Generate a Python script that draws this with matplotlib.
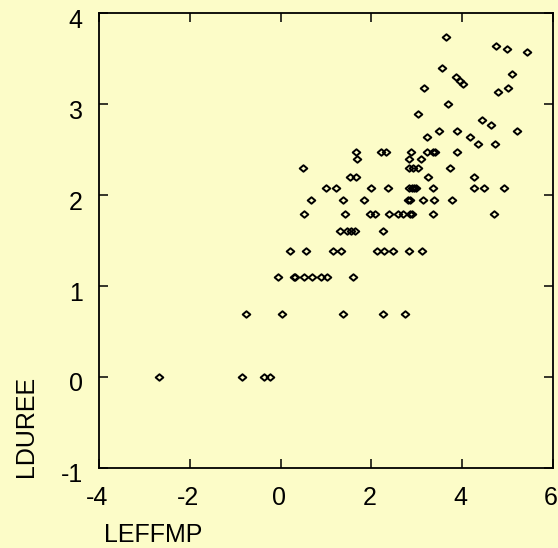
import matplotlib
matplotlib.use("Agg")
import matplotlib.pyplot as plt
import matplotlib.transforms as mtransforms
from matplotlib.path import Path

# data, grouped by LDUREE level
leffmp = [
    -2.69, -0.86, -0.37, -0.23,
    -0.77, 0.02, 1.37, 2.26, 2.75,
    -0.07, 0.29, 0.31, 0.52, 0.70, 0.89, 1.03, 1.60,
    0.21, 0.56, 1.15, 1.34, 2.12, 2.29, 2.47, 2.82, 3.12,
    1.30, 1.47, 1.55, 1.63, 2.25,
    0.52, 1.41, 1.98, 2.08, 2.40, 2.58, 2.69, 2.86, 2.89, 3.37, 4.70,
    0.67, 1.38, 1.83, 2.81, 2.86, 3.14, 3.39, 3.77,
    0.99, 1.21, 1.99, 2.37, 2.83, 2.89, 2.94, 2.99, 3.37, 4.27, 4.48, 4.93,
    1.52, 1.66, 3.25, 4.27,
    0.49, 2.82, 2.92, 3.03, 3.74,
    1.68, 2.84, 3.10,
    1.67, 2.21, 2.32, 2.88, 3.22, 3.37, 3.41, 3.89,
    4.35, 4.73,
    3.23, 4.18,
    3.49, 3.88, 5.22,
    4.64,
    4.44,
    3.02,
    3.70,
    4.79,
    3.16, 5.02,
    4.03,
    3.96,
    3.87,
    5.11,
    3.56,
    5.44,
    5.00,
    4.74,
    3.64,
]
lduree = [
    0.00, 0.00, 0.00, 0.00,
    0.69, 0.69, 0.69, 0.69, 0.69,
    1.10, 1.10, 1.10, 1.10, 1.10, 1.10, 1.10, 1.10,
    1.39, 1.39, 1.39, 1.39, 1.39, 1.39, 1.39, 1.39, 1.39,
    1.61, 1.61, 1.61, 1.61, 1.61,
    1.79, 1.79, 1.79, 1.79, 1.79, 1.79, 1.79, 1.79, 1.79, 1.79, 1.79,
    1.95, 1.95, 1.95, 1.95, 1.95, 1.95, 1.95, 1.95,
    2.08, 2.08, 2.08, 2.08, 2.08, 2.08, 2.08, 2.08, 2.08, 2.08, 2.08, 2.08,
    2.20, 2.20, 2.20, 2.20,
    2.30, 2.30, 2.30, 2.30, 2.30,
    2.40, 2.40, 2.40,
    2.48, 2.48, 2.48, 2.48, 2.48, 2.48, 2.48, 2.48,
    2.56, 2.56,
    2.64, 2.64,
    2.71, 2.71, 2.71,
    2.77,
    2.83,
    2.89,
    3.00,
    3.14,
    3.18, 3.18,
    3.22,
    3.26,
    3.30,
    3.33,
    3.40,
    3.58,
    3.61,
    3.64,
    3.74,
]
xticks = [-4, -2, 0, 2, 4, 6]
yticks = [-1, 0, 1, 2, 3, 4]

bg = "#FCFCC8"
plt.rcParams["font.family"] = ["Liberation Sans", "DejaVu Sans"]
plt.rcParams["axes.unicode_minus"] = False

fig = plt.figure(figsize=(5.58, 5.48), dpi=100, facecolor=bg)
ax = fig.add_axes([0.178, 0.1465, 0.8125, 0.829], facecolor=bg)

diamond = Path([(-1, 0), (0, 0.85), (1, 0), (0, -0.85), (-1, 0)],
               [Path.MOVETO, Path.LINETO, Path.LINETO, Path.LINETO, Path.CLOSEPOLY])
ax.plot(leffmp, lduree, linestyle="none", marker=diamond, markersize=5.5,
        markerfacecolor="none", markeredgecolor="black", markeredgewidth=1.4)

ax.set_xlim(-4, 6)
ax.set_ylim(-1, 4)
ax.set_xticks(xticks)
ax.set_yticks(yticks)
ax.tick_params(direction="in", length=6.5, width=1.1, labelsize=18,
               top=True, right=True, pad=12)
ax.tick_params(axis="x", pad=13.5)
for s in ax.spines.values():
    s.set_linewidth(1.3)

# labels sit slightly off their ticks in the original
dy = mtransforms.ScaledTranslation(0, -5 / 100, fig.dpi_scale_trans)
for lab in ax.get_yticklabels():
    lab.set_transform(lab.get_transform() + dy)
dx = mtransforms.ScaledTranslation(-2 / 100, 0, fig.dpi_scale_trans)
for lab in ax.get_xticklabels():
    lab.set_transform(lab.get_transform() + dx)

fig.text(26 / 558, 1 - 477 / 548, "LDUREE", rotation=90, fontsize=18,
         ha="center", va="bottom")
fig.text(104 / 558, 1 - 535 / 548, "LEFFMP", fontsize=18, ha="left", va="center")

fig.savefig("out.png", dpi=100, facecolor=bg)
